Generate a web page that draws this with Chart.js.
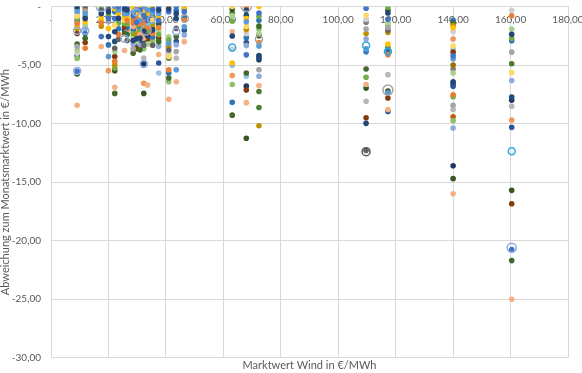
<!DOCTYPE html>
<html><head><meta charset="utf-8">
<script src="https://cdn.jsdelivr.net/npm/chart.js@4"></script>
<style>html,body{margin:0;padding:0;background:#fff}canvas{display:block}</style>
</head><body>
<canvas id="c" width="582" height="373"></canvas>
<script>
// x positions (Marktwert Wind, €/MWh) of each month column
const monthX = [9.1, 11.9, 17.5, 20.0, 22.2, 23.5, 25.6, 26.5, 28.6, 29.8, 31.0, 32.3, 33.6, 35.4, 37.5, 41.0, 43.6, 46.4, 63.1, 68.0, 72.4, 109.7, 117.3, 140.0, 160.4];

// deviation per column: [series index, Abweichung €/MWh]
const m00 = [[0,0],[1,-5.53],[2,-0.38],[3,-1.45],[4,-8.44],[5,-3.42],[6,-0.19],[7,-1.68],[8,-0.83],[9,-1.87],[10,-1.03],[11,-3.2],[12,-3.71],[13,-2.3],[14,-0.61],[15,-3.99],[16,-1.22],[17,-5.76],[21,-4.43],[23,-4.21]];
const m01 = [[0,-1.03],[2,-0.61],[3,-3.56],[5,-0.38],[6,0],[7,-1.31],[9,-0.19],[10,-0.83],[11,-2.72],[12,-1.6],[13,-3.08],[14,-1.87],[16,-2.3]];
const m02 = [[0,-0.61],[1,-2.56],[3,-1.39],[4,-3.42],[6,-0.33],[7,-1.12],[8,-0.89],[9,-1.68],[10,-0.2]];
const m03 = [[0,-0.45],[1,-1.03],[2,-4.27],[5,-1.31],[6,-0.19],[7,-1.87],[10,-0.75],[16,-3.28],[19,-5.48],[23,-2.56]];
const m04 = [[0,-2.15],[1,-1.03],[2,0],[3,-4.69],[4,-6.89],[6,-3.56],[7,-0.19],[8,-1.6],[9,-4.98],[10,-5.25],[11,-7.42],[12,-3.84],[13,-4.27],[16,-0.45],[17,-5.48],[23,-2.98]];
const m05 = [[0,-1.0],[1,0],[2,-0.3],[3,-2.4],[6,-2.8],[7,-0.6],[10,-1.4],[16,-1.9]];
const m06 = [[0,-0.19],[1,0],[2,-0.61],[4,-3.76],[7,-0.89],[8,-1.17],[10,-1.45],[11,-2.3],[13,-1.73],[16,-0.38],[23,-2.02]];
const m07 = [[1,0],[0,-0.3],[2,-0.6],[7,-0.9],[3,-1.2],[10,-1.5],[16,-1.8],[19,-2.1],[11,-2.4],[6,-2.9]];
const m08 = [[7,0],[8,-0.2],[2,-0.5],[1,-0.8],[9,-1.1],[3,-1.4],[4,-1.7],[16,-2.0],[10,-2.3],[12,-2.6],[0,-2.9],[14,-3.2],[5,-3.6],[11,-4.0]];
const m09 = [[8,0],[2,-0.25],[7,-0.55],[16,-0.8],[3,-1.05],[1,-1.35],[10,-1.6],[19,-1.9],[24,-2.15],[9,-2.4],[0,-2.75],[12,-3.0],[23,-3.3],[13,-3.6]];
const m10 = [[7,0],[1,-0.3],[24,-0.6],[8,-0.9],[2,-1.2],[3,-1.5],[16,-1.8],[10,-2.1],[4,-2.4],[0,-2.7],[18,-3.0],[14,-3.35],[11,-3.7]];
const m11 = [[2,0],[7,-0.2],[8,-0.45],[1,-0.75],[16,-1.0],[3,-1.3],[9,-1.55],[12,-1.85],[0,-2.1],[10,-2.4],[4,-2.7],[23,-3.0],[6,-3.3],[21,-3.6],[22,-4.4],[26,-4.9],[19,-6.55],[17,-7.42]];
const m12 = [[8,0],[2,-0.3],[7,-0.6],[16,-0.9],[1,-1.2],[24,-1.5],[3,-1.8],[10,-2.1],[0,-2.5],[13,-2.8],[12,-3.2],[4,-6.7]];
const m13 = [[7,0],[1,-0.25],[2,-0.55],[11,-0.85],[8,-1.15],[10,-1.45],[9,-1.75],[0,-2.0],[3,-2.3],[16,-2.6],[21,-2.9],[6,-3.3]];
const m14 = [[16,0],[0,-0.3],[2,-0.6],[7,-0.9],[1,-1.2],[23,-1.5],[3,-1.8],[12,-2.1],[10,-2.4],[13,-2.7],[11,-3.0],[14,-3.4],[4,-4.1],[18,-4.83],[24,-5.68]];
const m15 = [[0,-0.19],[1,-0.45],[2,-3.14],[3,-5.4],[4,-7.93],[6,-3.71],[7,0],[8,-4.27],[9,-3.42],[10,-2.86],[11,-6.1],[12,-2.58],[15,-3.99],[16,-5.68],[20,-4.41],[21,-6.42]];
const m16 = [[0,-0.61],[1,0],[2,-5.4],[4,-6.42],[5,-3.84],[6,-1.87],[11,-2.56],[14,-3.27],[16,-0.33],[18,-2.98],[22,-4.41],[23,-1.03]];
const m17 = [[7,0],[10,-0.19],[1,-0.45],[16,-0.89],[3,-1.17],[2,-1.73],[18,-2.02],[14,-2.44],[4,-3.0]];
const m18 = [[8,0],[17,-0.21],[20,-0.55],[12,-0.8],[10,-1.26],[4,-2.15],[0,-2.52],[15,-3.62],[7,-4.83],[14,-5.0],[19,-5.9],[21,-6.66],[16,-8.18],[11,-9.28]];
const m19 = [[3,-0.1],[0,-0.33],[23,-0.75],[7,-1.03],[2,-1.31],[8,-1.68],[9,-1.96],[15,-2.3],[16,-2.66],[18,-3.08],[14,-3.34],[1,-4.13],[11,-5.68],[24,-5.96],[26,-6.8],[13,-7.14],[4,-8.21],[17,-11.25]];
const m20 = [[7,0],[1,-0.55],[10,-0.83],[16,-1.17],[11,-1.68],[21,-1.93],[12,-2.3],[17,-2.49],[3,-3.08],[2,-3.37],[0,-4.18],[23,-4.35],[26,-4.55],[5,-5.4],[14,-5.96],[4,-6.75],[20,-7.26],[28,-8.63],[9,-10.18]];
const m21 = [[1,-0.14],[8,-0.75],[15,-1.09],[27,-1.34],[5,-1.93],[9,-2.3],[14,-2.78],[2,-3.62],[16,-3.86],[11,-5.34],[10,-6.04],[4,-6.66],[17,-6.97],[22,-8.1],[13,-9.5],[0,-9.98],[6,-12.29]];
const m22 = [[10,-0.04],[11,-0.33],[0,-0.55],[1,-1.09],[12,-1.37],[21,-1.6],[5,-1.79],[6,-2.02],[9,-2.21],[7,-3.2],[28,-3.5],[16,-3.84],[3,-4.13],[22,-5.82],[17,-7.22],[2,-7.37],[13,-7.81],[4,-8.8],[18,-8.97]];
const m23 = [[16,-1.17],[11,-1.4],[9,-1.62],[7,-1.82],[15,-2.15],[19,-2.78],[8,-3.37],[24,-3.62],[13,-3.9],[1,-4.21],[2,-4.47],[25,-5.0],[27,-5.34],[12,-5.68],[0,-6.44],[23,-6.6],[18,-6.8],[3,-7.53],[10,-7.7],[5,-8.44],[22,-8.8],[29,-9.42],[21,-9.76],[14,-10.38],[26,-13.6],[17,-14.7],[4,-16.0]];
const m24 = [[15,-0.33],[3,-0.8],[12,-1.93],[0,-2.38],[10,-2.72],[16,-2.92],[5,-3.9],[20,-4.89],[8,-5.65],[14,-6.32],[23,-7.73],[26,-8.01],[22,-8.52],[19,-9.7],[18,-10.32],[17,-15.7],[13,-16.85],[1,-20.75],[11,-21.7],[4,-25.0]];

// highlighted (hollow) markers
const ringX = [9.1, 9.1, 11.9, 17.5, 25.6, 32.3, 29.7, 33.1, 34.9, 43.6, 46.6, 68.0, 72.4, 109.7, 117.3, 160.4, 63.1, 109.7, 117.3, 160.4];
const ringY = [-2.07, -5.5, -2.07, 0, -2.76, -4.9, -0.5, -2.0, -1.1, -2.14, -1.03, 0, -2.8, -12.4, -7.14, -20.6, -3.5, -3.34, -3.84, -12.37];

// axis ticks
const xTicks = [0, 20, 40, 60, 80, 100, 120, 140, 160, 180];
const yTicks = [0, -5, -10, -15, -20, -25, -30];

// ---- styling ----
const palette = ['#264478','#4472C4','#5B9BD5','#ED7D31','#F4B183','#A5A5A5','#636363','#FFC000','#FFD966','#BF9000',
  '#70AD47','#43682B','#A9D18E','#843C0C','#8FAADC','#D0CECE','#2E75B6','#375623','#2F5597','#F1975A',
  '#4E7A2E','#8CC168','#B7B7B7','#1F4E79','#9DC3E6','#997300','#203864','#7F7F7F','#507E32','#C55A11'];
const ringColor = ['#8FAADC','#8FAADC','#8FAADC','#8FAADC','#8FAADC','#8FAADC','#8FAADC','#A5A5A5','#8FAADC','#8FAADC','#A5A5A5','#A5A5A5','#A5A5A5','#595959','#A5A5A5','#8FAADC','#2EAADC','#2EAADC','#2EAADC','#2EAADC'];
const ringSize = [3.5,3.5,3.5,5,3.5,3.5,3.5,5,3.5,3.5,3.5,5,3.5,4,5,4.5,3.5,3.5,3.5,3.5];
const textColor = '#595959';
const gridColor = '#D9D9D9';
const fontFamily = "Lato, 'Open Sans', sans-serif";

const columns = [m00,m01,m02,m03,m04,m05,m06,m07,m08,m09,m10,m11,m12,m13,m14,m15,m16,m17,m18,m19,m20,m21,m22,m23,m24];
const fmt = v => v === 0 ? '-' : Number(v).toFixed(2).replace('.', ',');

const datasets = [];
datasets.push({
  label: 'Markierung',
  data: ringX.map((x, i) => ({x, y: ringY[i]})),
  pointStyle: 'circle',
  backgroundColor: 'rgba(0,0,0,0)',
  borderColor: ringColor,
  pointRadius: ringSize,
  borderWidth: 1.5,
  showLine: false
});
palette.forEach((col, s) => {
  const pts = [];
  columns.forEach((c, ci) => c.forEach(([si, v]) => { if (si === s) pts.push({x: monthX[ci], y: v}); }));
  datasets.push({
    label: 'Anlage ' + (s + 1),
    data: pts,
    backgroundColor: col,
    borderColor: col,
    borderWidth: 0,
    pointRadius: 2.8,
    showLine: false
  });
});

new Chart(document.getElementById('c'), {
  type: 'scatter',
  data: { datasets },
  options: {
    responsive: false,
    animation: false,
    devicePixelRatio: 1,
    events: [],
    layout: { padding: 0 },
    plugins: {
      legend: { display: false },
      tooltip: { enabled: false },
      title: {
        display: true, position: 'bottom', fullSize: false,
        text: 'Marktwert Wind in €/MWh', color: textColor,
        font: { family: fontFamily, size: 11, weight: 'normal' },
        padding: { top: 1, bottom: 1 }
      }
    },
    scales: {
      x: {
        type: 'linear', min: 0, max: 180, position: { y: 0 },
        afterBuildTicks: s => { s.ticks = xTicks.map(v => ({ value: v })); },
        ticks: { callback: fmt, padding: 7, color: textColor, maxRotation: 0, autoSkip: false,
          font: { family: fontFamily, size: 10 } },
        grid: { color: gridColor, drawTicks: false },
        border: { color: gridColor },
        afterFit: s => { s.paddingLeft = 0; s.paddingRight = 14; s.paddingTop = 0; s.paddingBottom = 0; }
      },
      y: {
        type: 'linear', min: -30, max: 0,
        afterBuildTicks: s => { s.ticks = yTicks.map(v => ({ value: v })); },
        ticks: { callback: fmt, padding: 10, color: textColor,
          font: { family: fontFamily, size: 10 } },
        grid: { color: gridColor, drawTicks: false },
        border: { color: gridColor },
        title: { display: true, text: 'Abweichung zum Monatsmarktwert in €/MWh', color: textColor,
          padding: 0, font: { family: fontFamily, size: 11, lineHeight: 1 } },
        afterFit: s => { s.width = 51; s.paddingTop = 3; s.paddingBottom = 0; }
      }
    }
  }
});
</script>
</body></html>
